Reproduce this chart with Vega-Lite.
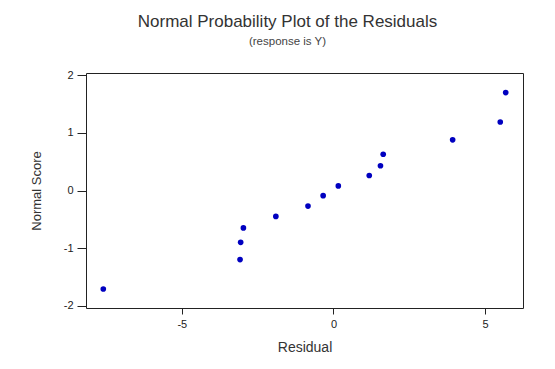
{
  "$schema": "https://vega.github.io/schema/vega-lite/v6.json",
  "width": 437,
  "height": 235,
  "autosize": {"type": "none"},
  "padding": {"left": 86, "top": 73, "right": 32, "bottom": 61},
  "background": "white",
  "title": {
    "text": "Normal Probability Plot of the Residuals",
    "subtitle": "(response is Y)",
    "font": "Liberation Sans",
    "fontSize": 17,
    "fontWeight": "normal",
    "color": "#333333",
    "subtitleFont": "Liberation Sans",
    "subtitleFontSize": 11.5,
    "subtitleColor": "#444444",
    "subtitlePadding": 5,
    "anchor": "middle",
    "dx": -17,
    "offset": 21
  },
  "config": {
    "view": {"stroke": "#222222", "strokeWidth": 1},
    "axis": {
      "labelFont": "Liberation Sans",
      "titleFont": "Liberation Sans",
      "labelFontSize": 11,
      "titleFontSize": 14,
      "titleFontWeight": "normal",
      "labelColor": "#222222",
      "titleColor": "#333333",
      "tickColor": "#222222",
      "domain": false,
      "grid": false
    }
  },
  "data": {
    "values": [
      {"Residual": -7.59, "Score": -1.71},
      {"Residual": -3.08, "Score": -1.20},
      {"Residual": -3.06, "Score": -0.90},
      {"Residual": -2.97, "Score": -0.65},
      {"Residual": -1.90, "Score": -0.45},
      {"Residual": -0.84, "Score": -0.27},
      {"Residual": -0.34, "Score": -0.09},
      {"Residual": 0.16, "Score": 0.08},
      {"Residual": 1.18, "Score": 0.26},
      {"Residual": 1.55, "Score": 0.43},
      {"Residual": 1.64, "Score": 0.63},
      {"Residual": 3.93, "Score": 0.88},
      {"Residual": 5.50, "Score": 1.19},
      {"Residual": 5.68, "Score": 1.70}
    ]
  },
  "mark": {"type": "circle", "size": 32, "color": "#0000C0", "opacity": 1},
  "encoding": {
    "x": {
      "field": "Residual",
      "type": "quantitative",
      "scale": {"domain": [-8.16, 6.25], "nice": false, "zero": false},
      "axis": {
        "values": [-5, 0, 5],
        "title": "Residual",
        "tickSize": 6,
        "labelPadding": 4,
        "titlePadding": 11,
        "labelExpr": "datum.value < 0 ? '-' + abs(datum.value) : '' + datum.value"
      }
    },
    "y": {
      "field": "Score",
      "type": "quantitative",
      "title": "Normal Score",
      "scale": {"domain": [-2.04, 2.04], "nice": false, "zero": false},
      "axis": {
        "values": [-2, -1, 0, 1, 2],
        "tickSize": 9,
        "labelPadding": 4,
        "titlePadding": 20,
        "titleFontSize": 13,
        "labelExpr": "datum.value < 0 ? '-' + abs(datum.value) : '' + datum.value"
      }
    }
  }
}
